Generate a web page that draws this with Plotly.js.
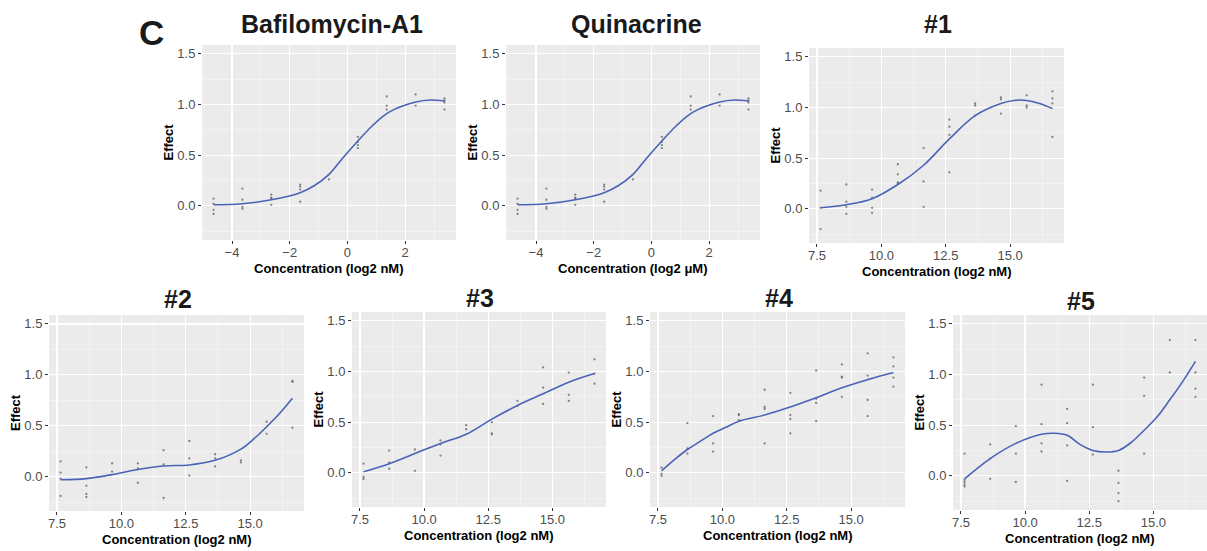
<!DOCTYPE html>
<html>
<head>
<meta charset="utf-8">
<script src="https://cdn.plot.ly/plotly-3.0.1.min.js"></script>
<style>html,body{margin:0;padding:0;background:#fff}#chart{width:1207px;height:551px}</style>
</head>
<body>
<div id="chart"></div>
<script>
// ---------- DATA ----------
const panelTitles = ["Bafilomycin-A1", "Quinacrine", "#1", "#2", "#3", "#4", "#5"];
const xTitles = ["Concentration (log2 nM)", "Concentration (log2 \u03bcM)", "Concentration (log2 nM)",
  "Concentration (log2 nM)", "Concentration (log2 nM)", "Concentration (log2 nM)", "Concentration (log2 nM)"];
const yTitle = "Effect";
const panelLabel = "C";

// Bafilomycin-A1 replicate points
const bafX = [-4.64,-4.64,-4.64,-4.64, -3.64,-3.64,-3.64,-3.64, -2.64,-2.64,-2.64,-2.64, -1.64,-1.64,-1.64,-1.64,
  -0.64, 0.36,0.36,0.36,0.36, 1.36,1.36,1.36, 2.36,2.36, 3.36,3.36,3.36,3.36];
const bafY = [0.07,0.02,-0.04,-0.08, 0.17,0.06,-0.01,-0.03, 0.11,0.08,0.07,0.01, 0.21,0.19,0.16,0.04,
  0.26, 0.68,0.63,0.60,0.57, 1.08,0.99,0.95, 1.10,0.99, 1.06,1.04,1.02,0.95];
const bafFitX = [-4.64,-3.64,-2.64,-1.64,-1.14,-0.64,-0.14,0.36,0.86,1.36,1.86,2.36,2.86,3.36];
const bafFitY = [0.01,0.02,0.06,0.13,0.20,0.31,0.48,0.64,0.79,0.91,0.98,1.025,1.045,1.035];

// Quinacrine replicate points
const quiX = [-4.64,-4.64,-4.64,-4.64, -3.64,-3.64,-3.64,-3.64, -2.64,-2.64,-2.64,-2.64, -1.64,-1.64,-1.64,-1.64,
  -0.64, 0.36,0.36,0.36,0.36, 1.36,1.36,1.36, 2.36,2.36, 3.36,3.36,3.36,3.36];
const quiY = [0.07,0.02,-0.04,-0.08, 0.17,0.06,-0.01,-0.03, 0.11,0.08,0.07,0.01, 0.21,0.19,0.16,0.04,
  0.26, 0.68,0.63,0.60,0.57, 1.08,0.99,0.95, 1.10,0.99, 1.06,1.04,1.02,0.95];
const quiFitX = [-4.64,-3.64,-2.64,-1.64,-1.14,-0.64,-0.14,0.36,0.86,1.36,1.86,2.36,2.86,3.36];
const quiFitY = [0.01,0.02,0.06,0.13,0.20,0.31,0.48,0.64,0.79,0.91,0.98,1.025,1.045,1.035];

// Compound #1
const c1X = [7.64,7.64,7.64, 8.64,8.64,8.64,8.64, 9.64,9.64,9.64,9.64, 10.64,10.64,10.64,10.64, 11.64,11.64,11.64,
  12.64,12.64,12.64,12.64, 13.64,13.64,13.64, 14.64,14.64,14.64, 15.64,15.64,15.64, 16.64,16.64,16.64,16.64];
const c1Y = [0.18,0.01,-0.20, 0.24,0.07,0.02,-0.05, 0.19,0.11,0.01,-0.04, 0.44,0.34,0.26,0.25, 0.60,0.27,0.02,
  0.88,0.81,0.73,0.36, 1.04,1.02,0.92, 1.10,1.08,0.94, 1.12,1.02,1.00, 1.16,1.09,1.04,0.71];
const c1FitX = [7.64,8.64,9.64,10.64,11.64,12.64,13.64,14.64,15.14,15.64,16.14,16.64];
const c1FitY = [0.01,0.04,0.10,0.24,0.43,0.69,0.92,1.04,1.07,1.07,1.04,0.99];

// Compound #2
const c2X = [7.64,7.64,7.64,7.64, 8.64,8.64,8.64,8.64, 9.64,9.64, 10.64,10.64,10.64, 11.64,11.64,11.64,
  12.64,12.64,12.64, 13.64,13.64,13.64, 14.64,14.64, 15.64,15.64, 16.64,16.64,16.64];
const c2Y = [0.15,0.04,-0.02,-0.19, 0.09,-0.09,-0.17,-0.20, 0.13,0.05, 0.13,0.08,-0.06, 0.26,0.12,-0.21,
  0.35,0.18,0.01, 0.22,0.18,0.10, 0.16,0.14, 0.54,0.42, 0.94,0.93,0.48];
const c2FitX = [7.64,8.64,9.64,10.64,11.64,12.64,13.64,14.64,15.14,15.64,16.14,16.64];
const c2FitY = [-0.03,-0.02,0.02,0.07,0.105,0.115,0.16,0.27,0.37,0.49,0.62,0.77];

// Compound #3
const c3X = [7.64,7.64,7.64, 8.64,8.64,8.64, 9.64,9.64, 10.64,10.64,10.64, 11.64,11.64, 12.64,12.64,12.64,
  13.64,13.64, 14.64,14.64,14.64, 15.64,15.64,15.64, 16.64,16.64,16.64];
const c3Y = [0.09,-0.04,-0.06, 0.22,0.10,0.04, 0.23,0.02, 0.32,0.28,0.17, 0.47,0.43, 0.50,0.39,0.38,
  0.71,0.66, 1.04,0.84,0.68, 0.99,0.77,0.71, 1.12,0.98,0.88];
const c3FitX = [7.64,8.64,9.64,10.64,11.64,12.64,13.64,14.64,15.64,16.64];
const c3FitY = [0.01,0.09,0.19,0.29,0.38,0.53,0.665,0.78,0.895,0.98];

// Compound #4
const c4X = [7.64,7.64,7.64, 8.64,8.64,8.64, 9.64,9.64,9.64, 10.64,10.64,10.64, 11.64,11.64,11.64,11.64,
  12.64,12.64,12.64,12.64, 13.64,13.64,13.64,13.64, 14.64,14.64,14.64,14.64, 15.64,15.64,15.64,15.64,
  16.64,16.64,16.64,16.64];
const c4Y = [0.05,-0.01,-0.03, 0.49,0.24,0.19, 0.56,0.29,0.21, 0.58,0.57,0.52, 0.82,0.65,0.63,0.29,
  0.79,0.57,0.53,0.39, 1.01,0.73,0.69,0.51, 1.07,0.95,0.94,0.75, 1.18,0.96,0.72,0.56,
  1.14,1.05,0.94,0.85];
const c4FitX = [7.64,8.14,8.64,9.14,9.64,10.14,10.64,11.64,12.64,13.64,14.64,15.64,16.64];
const c4FitY = [0.02,0.13,0.23,0.31,0.39,0.45,0.51,0.57,0.65,0.74,0.84,0.92,0.99];

// Compound #5
const c5X = [7.64,7.64,7.64,7.64,7.64, 8.64,8.64,8.64, 9.64,9.64,9.64, 10.64,10.64,10.64,10.64,
  11.64,11.64,11.64,11.64, 12.64,12.64,12.64, 13.64,13.64,13.64,13.64, 14.64,14.64,14.64,
  15.64,15.64, 16.64,16.64,16.64,16.64];
const c5Y = [0.22,-0.04,-0.06,-0.085,-0.105, 0.31,0.17,-0.03, 0.49,0.22,-0.06, 0.90,0.51,0.32,0.24,
  0.66,0.52,0.30,-0.05, 0.90,0.48,0.21, 0.05,-0.07,-0.17,-0.25, 0.97,0.79,0.22,
  1.34,1.02, 1.34,1.02,0.86,0.78];
const c5FitX = [7.64,8.64,9.64,10.64,11.14,11.64,12.14,12.64,13.14,13.64,14.14,14.64,15.14,15.64,16.14,16.64];
const c5FitY = [-0.03,0.17,0.32,0.41,0.42,0.40,0.31,0.25,0.235,0.25,0.33,0.45,0.58,0.75,0.93,1.13];

const pointsX = [bafX, quiX, c1X, c2X, c3X, c4X, c5X];
const pointsY = [bafY, quiY, c1Y, c2Y, c3Y, c4Y, c5Y];
const fitX = [bafFitX, quiFitX, c1FitX, c2FitX, c3FitX, c4FitX, c5FitX];
const fitY = [bafFitY, quiFitY, c1FitY, c2FitY, c3FitY, c4FitY, c5FitY];

// ---------- LAYOUT ----------
const W = 1207, H = 551;
// plot boxes in pixels: [left, top, right, bottom]
const boxes = [
  [202, 45, 456, 240], [506, 45, 760, 240], [809, 48, 1064, 243],
  [49, 315, 304, 511], [352, 312, 606, 507], [650, 312, 905, 507], [953, 315, 1207, 510]
];
const titleY = [24, 24, 24, 299, 298, 298, 301];
const xRangeTop = [-5.04, 3.76], xRangeNum = [7.19, 17.09];
const yRange = [-0.3375, 1.5875];

const FONT = "Liberation Sans, Arial, Helvetica, sans-serif";
const traces = [];
const layout = {
  width: W, height: H, margin: {l: 0, r: 0, t: 0, b: 0},
  paper_bgcolor: "#ffffff", plot_bgcolor: "#EBEBEB", showlegend: false,
  font: {family: FONT}, annotations: []
};

for (let i = 0; i < 7; i++) {
  const sfx = i === 0 ? "" : String(i + 1);
  const xa = "x" + sfx, ya = "y" + sfx;
  traces.push({
    type: "scatter", mode: "markers", x: pointsX[i], y: pointsY[i], xaxis: xa, yaxis: ya,
    marker: {size: 2.3, color: "rgba(85,85,85,0.7)"}, hoverinfo: "x+y"
  });
  traces.push({
    type: "scatter", mode: "lines", x: fitX[i], y: fitY[i], xaxis: xa, yaxis: ya,
    line: {color: "#4A63B6", width: 1.6, shape: "spline", smoothing: 1}, hoverinfo: "skip"
  });
  const b = boxes[i];
  const top = i < 2;
  layout["xaxis" + sfx] = {
    domain: [b[0] / W, Math.min(1, b[2] / W)], anchor: ya,
    range: top ? xRangeTop : xRangeNum,
    tickvals: top ? [-4, -2, 0, 2] : [7.5, 10, 12.5, 15],
    tickformat: top ? "d" : ".1f",
    ticks: "outside", ticklen: 3, tickwidth: 1, tickcolor: "#333333", ticklabelstandoff: -3,
    tickfont: {size: 13, color: "#4D4D4D", family: FONT},
    showgrid: true, gridcolor: "#FFFFFF", gridwidth: 1.2, zeroline: false, showline: false,
    minor: {tickvals: top ? [-5, -3, -1, 1, 3] : [8.75, 11.25, 13.75, 16.25], showgrid: true,
      gridcolor: "#F6F6F6", gridwidth: 0.6, ticks: ""},
    fixedrange: true
  };
  layout["yaxis" + sfx] = {
    domain: [1 - b[3] / H, 1 - b[1] / H], anchor: xa, range: yRange,
    tickvals: [0, 0.5, 1, 1.5], tickformat: ".1f",
    ticks: "outside", ticklen: 3, tickwidth: 1, tickcolor: "#333333",
    tickfont: {size: 13, color: "#4D4D4D", family: FONT},
    showgrid: true, gridcolor: "#FFFFFF", gridwidth: 1.2, zeroline: false, showline: false,
    minor: {tickvals: [-0.25, 0.25, 0.75, 1.25], showgrid: true, gridcolor: "#F6F6F6", gridwidth: 0.6, ticks: ""},
    fixedrange: true
  };
  const cx = (b[0] + b[2]) / 2, cy = (b[1] + b[3]) / 2;
  // panel title
  layout.annotations.push({
    text: "<b>" + panelTitles[i] + "</b>", xref: "paper", yref: "paper",
    x: (cx + (top ? 3 : 1)) / W, y: 1 - titleY[i] / H, xanchor: "center", yanchor: "middle",
    showarrow: false, font: {size: 25, color: "#1a1a1a", family: FONT}
  });
  // x axis title
  layout.annotations.push({
    text: "<b>" + xTitles[i] + "</b>", xref: "paper", yref: "paper",
    x: cx / W, y: 1 - (b[3] + 28) / H, xanchor: "center", yanchor: "middle",
    showarrow: false, font: {size: 13, color: "#000000", family: FONT}
  });
  // y axis title
  layout.annotations.push({
    text: "<b>" + yTitle + "</b>", xref: "paper", yref: "paper", textangle: -90,
    x: (b[0] - 34) / W, y: 1 - cy / H, xanchor: "center", yanchor: "middle",
    showarrow: false, font: {size: 13, color: "#000000", family: FONT}
  });
}
layout.annotations.push({
  text: "<b>" + panelLabel + "</b>", xref: "paper", yref: "paper",
  x: 151 / W, y: 1 - 33 / H, xanchor: "center", yanchor: "middle",
  showarrow: false, font: {size: 35, color: "#1a1a1a", family: FONT}
});

Plotly.newPlot("chart", traces, layout, {displayModeBar: false, staticPlot: true});
</script>
</body>
</html>
